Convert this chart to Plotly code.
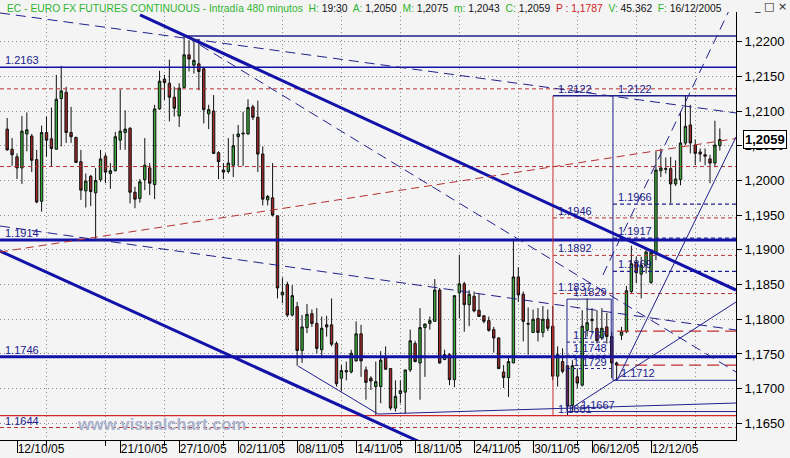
import plotly.graph_objects as go

# ---------------- data ----------------
bars = list(range(-2, 144))
opens = [1.2074,1.2045,1.2034,1.2018,1.2067,1.2064,1.2030,1.1970,1.2069,1.2060,
         1.2045,1.2118,1.2127,1.2069,1.2062,1.2027,1.1985,1.2006,1.1982,1.2001,
         1.2035,1.2010,1.2014,1.2058,1.2069,1.2075,1.1983,1.1974,1.2001,1.2018,
         1.1994,1.2103,1.2146,1.2140,1.2120,1.2093,1.2134,1.2181,1.2166,1.2168,
         1.2161,1.2096,1.2100,1.2040,1.2015,1.2013,1.2022,1.2063,1.2067,1.2067,
         1.2106,1.2091,1.2038,1.1972,1.1975,1.1949,1.1835,1.1850,1.1806,1.1818,
         1.1755,1.1788,1.1808,1.1794,1.1756,1.1792,1.1792,1.1765,1.1715,1.1724,
         1.1724,1.1740,1.1779,1.1727,1.1715,1.1703,1.1703,1.1745,1.1729,1.1672,
         1.1693,1.1695,1.1727,1.1765,1.1737,1.1788,1.1794,1.1797,1.1842,1.1742,
         1.1749,1.1713,1.1838,1.1851,1.1821,1.1833,1.1813,1.1805,1.1798,1.1785,
         1.1773,1.1724,1.1716,1.1737,1.1861,1.1836,1.1794,1.1781,1.1801,1.1781,
         1.1800,1.1790,1.1718,1.1739,1.1733,1.1676,1.1717,1.1705,1.1784,1.1798,
         1.1787,1.1773,1.1789,1.1775,1.1737,1.1777,1.1782,1.1840,1.1882,1.1865,
         1.1878,1.1853,1.1895,1.2014,1.2016,1.2017,1.1995,1.2001,1.2054,1.2080,
         1.2051,1.2041,1.2037,1.2031,1.2025,1.2050]
highs = [1.2090,1.2061,1.2039,1.2093,1.2098,1.2067,1.2044,1.2079,1.2092,1.2105,
         1.2152,1.2165,1.2135,1.2106,1.2063,1.2044,1.2010,1.2008,1.2018,1.2044,
         1.2039,1.2025,1.2070,1.2131,1.2101,1.2077,1.1991,1.2002,1.2061,1.2025,
         1.2109,1.2158,1.2152,1.2174,1.2135,1.2140,1.2208,1.2202,1.2204,1.2204,
         1.2162,1.2109,1.2123,1.2042,1.2025,1.2061,1.2067,1.2080,1.2099,1.2117,
         1.2109,1.2115,1.2049,1.1979,1.2025,1.1949,1.1860,1.1854,1.1849,1.1825,
         1.1806,1.1822,1.1814,1.1816,1.1804,1.1805,1.1830,1.1768,1.1734,1.1739,
         1.1756,1.1797,1.1792,1.1732,1.1718,1.1739,1.1754,1.1761,1.1729,1.1712,
         1.1712,1.1727,1.1785,1.1769,1.1816,1.1794,1.1804,1.1858,1.1845,1.1756,
         1.1751,1.1834,1.1893,1.1854,1.1842,1.1840,1.1837,1.1806,1.1804,1.1789,
         1.1774,1.1734,1.1747,1.1916,1.1875,1.1840,1.1817,1.1814,1.1816,1.1819,
         1.1814,1.1819,1.1761,1.1758,1.1734,1.1741,1.1729,1.1813,1.1830,1.1816,
         1.1813,1.1816,1.1809,1.1782,1.1739,1.1789,1.1848,1.1906,1.1890,1.1890,
         1.1900,1.1899,1.2042,1.2046,1.2033,1.2034,1.2029,1.2099,1.2122,1.2109,
         1.2059,1.2046,1.2046,1.2037,1.2086,1.2075]
lows = [1.2043,1.2021,1.2002,1.1995,1.2042,1.2012,1.1967,1.1955,1.2034,1.2020,
        1.2044,1.2049,1.2054,1.2054,1.2025,1.1972,1.1961,1.1963,1.1916,1.1998,
        1.1996,1.1988,1.2013,1.2044,1.2044,1.1967,1.1960,1.1968,1.1986,1.1979,
        1.1973,1.2102,1.2116,1.2085,1.2092,1.2077,1.2133,1.2157,1.2154,1.2130,
        1.2082,1.2074,1.2038,1.2002,1.2002,1.2010,1.2005,1.2021,1.2021,1.2066,
        1.2087,1.2012,1.1964,1.1964,1.1948,1.1830,1.1823,1.1803,1.1804,1.1733,
        1.1737,1.1780,1.1789,1.1751,1.1744,1.1775,1.1761,1.1703,1.1696,1.1712,
        1.1722,1.1739,1.1717,1.1684,1.1698,1.1662,1.1679,1.1727,1.1669,1.1667,
        1.1679,1.1664,1.1724,1.1738,1.1684,1.1717,1.1785,1.1797,1.1736,1.1741,
        1.1705,1.1702,1.1801,1.1782,1.1790,1.1810,1.1804,1.1794,1.1782,1.1752,
        1.1728,1.1701,1.1688,1.1737,1.1825,1.1768,1.1749,1.1780,1.1768,1.1774,
        1.1783,1.1712,1.1703,1.1722,1.1661,1.1667,1.1701,1.1703,1.1775,1.1780,
        1.1765,1.1770,1.1765,1.1715,1.1712,1.1770,1.1780,1.1837,1.1852,1.1830,
        1.1866,1.1851,1.1885,1.2005,1.2010,1.1967,1.1992,1.1993,1.2051,1.2039,
        1.2022,1.2027,1.2022,1.1996,1.2019,1.2043]
closes = [1.2044,1.2037,1.2018,1.2071,1.2073,1.2029,1.1969,1.2069,1.2058,1.2046,
          1.2117,1.2129,1.2069,1.2063,1.2026,1.1986,1.1999,1.1984,1.2000,1.2031,
          1.2012,1.2014,1.2063,1.2071,1.2074,1.1983,1.1973,1.1998,1.2022,1.1996,
          1.2103,1.2143,1.2141,1.2120,1.2104,1.2133,1.2181,1.2175,1.2173,1.2157,
          1.2102,1.2102,1.2039,1.2027,1.2012,1.2025,1.2050,1.2067,1.2068,1.2105,
          1.2091,1.2038,1.1973,1.1977,1.1950,1.1845,1.1839,1.1806,1.1834,1.1755,
          1.1789,1.1807,1.1794,1.1758,1.1787,1.1789,1.1764,1.1707,1.1726,1.1726,
          1.1751,1.1779,1.1740,1.1709,1.1711,1.1710,1.1741,1.1728,1.1672,1.1689,
          1.1697,1.1727,1.1769,1.1739,1.1788,1.1793,1.1798,1.1842,1.1737,1.1749,
          1.1713,1.1834,1.1851,1.1821,1.1836,1.1812,1.1804,1.1797,1.1784,1.1773,
          1.1729,1.1716,1.1739,1.1861,1.1835,1.1797,1.1793,1.1800,1.1781,1.1800,
          1.1787,1.1718,1.1749,1.1725,1.1675,1.1733,1.1708,1.1790,1.1795,1.1800,
          1.1769,1.1787,1.1775,1.1737,1.1734,1.1782,1.1841,1.1880,1.1867,1.1878,
          1.1897,1.1896,1.2015,1.2018,1.2017,1.1995,1.2002,1.2054,1.2078,1.2054,
          1.2039,1.2038,1.2035,1.2025,1.2051,1.2059]

date_tick_bars = [0, 21, 33, 45, 57, 69, 81, 93, 105, 117, 129]
date_tick_labels = ["12/10/05", "21/10/05", "27/10/05", "02/11/05", "08/11/05", "14/11/05",
                    "18/11/05", "24/11/05", "30/11/05", "06/12/05", "12/12/05"]
grid_bars = [6, 18, 30, 42, 54, 66, 78, 90, 102, 114, 126, 138]
price_ticks = [1.1650, 1.1700, 1.1750, 1.1800, 1.1850, 1.1900, 1.1950,
               1.2000, 1.2050, 1.2100, 1.2150, 1.2200]
price_tick_labels = ["1,1650", "1,1700", "1,1750", "1,1800", "1,1850", "1,1900", "1,1950",
                     "1,2000", "1,2050", "1,2100", "1,2150", "1,2200"]

# horizontal levels
level_thin_blue = [1.2163]
level_thick_blue = [1.1914, 1.1746]
level_red_dash = [1.2132, 1.2020, 1.1644]
level_red_solid = [1.1661]
level_peak = 1.2208
fib_red_box = [1.2122, 1.1946, 1.1892, 1.1837, 1.1661]
fib_blue_box = [1.2122, 1.1966, 1.1917, 1.1869, 1.1712]
fib_small_box = [1.1829, 1.1767, 1.1748, 1.1729, 1.1667]
level_red_long = [1.1783, 1.1734]

# trend lines (bar0, price0, bar1, price1)
trend_thick = [(25.03, 1.22384, 146.29, 1.18421), (-3.46, 1.18983, 82.0, 1.16231)]
trend_dashed = [(-3.46, 1.22413, 146.29, 1.20972), (37.23, 1.21952, 146.29, 1.17240),
                (-3.46, 1.19343, 146.29, 1.17845), (119.2, 1.18637, 146.29, 1.22658)]
trend_red = [(-3.46, 1.18969, 146.29, 1.20604)]
trend_thin = [(57.17, 1.17326, 73.45, 1.16634), (73.45, 1.16634, 146.29, 1.16793),
              (122.08, 1.1712, 146.29, 1.20626), (112.5, 1.16706, 146.29, 1.18248)]

last_close = 1.2059

# ---------------- figure ----------------
XMIN, XMAX = -3.46, 146.29
RED_BOX_X, BLUE_BOX_X = 109.05, 121.26
SMALL_BOX_X0, SMALL_BOX_X1 = 111.9, 120.9

BLUE = "#1212a8"
NAVY = "#20208c"
RED = "#b83030"
FONT = "Arial, 'Liberation Sans', sans-serif"

fig = go.Figure()

def seg(x0, y0, x1, y1, color, width, dash="solid"):
    fig.add_trace(go.Scatter(x=[x0, x1], y=[y0, y1], mode="lines",
                             line=dict(color=color, width=width, dash=dash),
                             hoverinfo="skip", showlegend=False))

# full width levels
for v in level_red_dash:
    seg(XMIN, v, XMAX, v, RED, 1, "4px,3px")
for v in level_red_solid:
    seg(XMIN, v, XMAX, v, "#d02828", 1.2)
for v in level_thin_blue:
    seg(XMIN, v, XMAX, v, BLUE, 1.5)
for v in level_thick_blue:
    seg(XMIN, v, XMAX, v, BLUE, 3)
seg(34, level_peak, XMAX, level_peak, NAVY, 1.5)

# red fibonacci box
seg(RED_BOX_X, fib_red_box[0], RED_BOX_X, fib_red_box[-1], "#c83030", 1)
seg(RED_BOX_X, fib_red_box[0], XMAX, fib_red_box[0], NAVY, 1.3)
for v in fib_red_box[1:-1]:
    seg(RED_BOX_X, v, XMAX, v, RED, 1, "4px,3px")

# blue fibonacci box
seg(BLUE_BOX_X, fib_blue_box[0], BLUE_BOX_X, fib_blue_box[-1], NAVY, 1)
seg(BLUE_BOX_X, fib_blue_box[-1], XMAX, fib_blue_box[-1], NAVY, 1)
for v in fib_blue_box[1:-1]:
    seg(BLUE_BOX_X, v, XMAX, v, NAVY, 1.2, "4px,3px")

# small box
seg(SMALL_BOX_X0, fib_small_box[0], SMALL_BOX_X0, fib_small_box[-1], NAVY, 1)
seg(SMALL_BOX_X1, fib_small_box[0], SMALL_BOX_X1, fib_small_box[2], NAVY, 1)
seg(SMALL_BOX_X0, fib_small_box[0], SMALL_BOX_X1, fib_small_box[0], NAVY, 1)
seg(SMALL_BOX_X0, fib_small_box[-1], XMAX, fib_small_box[-1], NAVY, 1)
for v in fib_small_box[1:-1]:
    seg(SMALL_BOX_X0, v, SMALL_BOX_X1, v, NAVY, 1, "3px,3px")

for v in level_red_long:
    seg(122.1, v, XMAX, v, "#c03030", 1.2, "12px,6px")

# trend lines
for t in trend_thick:
    seg(*t, BLUE, 3)
for t in trend_dashed:
    seg(*t, NAVY, 1, "10px,6px")
for t in trend_red:
    seg(*t, RED, 1, "8px,5px")
for t in trend_thin:
    seg(*t, NAVY, 1)

# candles
fig.add_trace(go.Candlestick(
    x=bars, open=opens, high=highs, low=lows, close=closes,
    increasing=dict(fillcolor="#3aa83a", line=dict(color="#111111", width=1)),
    decreasing=dict(fillcolor="#a02828", line=dict(color="#111111", width=1)),
    whiskerwidth=0, showlegend=False, hoverinfo="skip"))

# level labels
labels = [("1.2163", -2.6, 1.2163), ("1.1914", -2.6, 1.1914), ("1.1746", -2.6, 1.1746),
          ("1.1644", -2.6, 1.1644), ("1.2122", 109.9, 1.2122), ("1.2122", 122.1, 1.2122),
          ("1.1966", 122.1, 1.1966), ("1.1946", 109.9, 1.1946), ("1.1917", 122.1, 1.1917),
          ("1.1892", 109.9, 1.1892), ("1.1869", 122.1, 1.1869), ("1.1837", 109.9, 1.1837),
          ("1.1829", 112.9, 1.1829), ("1.1767", 112.9, 1.1767), ("1.1748", 112.9, 1.1748),
          ("1.1729", 112.9, 1.1729), ("1.1712", 122.7, 1.1712), ("1.1667", 114.5, 1.1667),
          ("1.1661", 109.9, 1.1661)]
for txt, bx, v in labels:
    fig.add_annotation(x=bx, y=v, text=txt, showarrow=False, xanchor="left", yanchor="bottom",
                       font=dict(size=11, color=NAVY, family=FONT), borderpad=0)

# watermark
fig.add_annotation(xref="paper", x=75/736, y=1.1649, text="<b>www.visualchart.com</b>",
                   showarrow=False, xanchor="left", yanchor="middle",
                   font=dict(size=16.5, color="#aab2cc", family=FONT))

# title line
G = "#2fb52f"
def g(s):
    return f'<span style="color:{G}">{s}</span>'
title = (g("EC - EURO FX FUTURES CONTINUOUS - Intradía 480 minutos&nbsp; H:") + " 19:30&nbsp; "
         + g("A:") + " 1,2050&nbsp; " + g("M:") + " 1,2075&nbsp; " + g("m:") + " 1,2043&nbsp; "
         + g("C:") + " 1,2059&nbsp; " + '<span style="color:#d02020">P : 1,1787</span>&nbsp; '
         + g("V:") + " 45.362&nbsp; " + g("F:") + " 16/12/2005")
fig.add_annotation(xref="paper", yref="paper", x=5/736, y=1 + 4/428, text=title,
                   showarrow=False, xanchor="left", yanchor="middle",
                   font=dict(size=10.3, color="#111111", family=FONT))
fig.add_annotation(xref="paper", yref="paper", x=1 + 16/736, y=1 + 5/428, text="_ □ ×",
                   showarrow=False, xanchor="left", yanchor="middle",
                   font=dict(size=11, color="#222222", family="DejaVu Sans"))

# last price box
fig.add_annotation(xref="paper", x=1, y=last_close, text="<b>1,2059</b>", showarrow=False,
                   xanchor="left", yanchor="middle", xshift=7,
                   font=dict(size=13, color="#000000", family=FONT),
                   bgcolor="#ffffff", bordercolor="#000000", borderwidth=1, borderpad=1)

fig.update_layout(
    width=790, height=458,
    margin=dict(l=0, r=54, t=12, b=18, autoexpand=False),
    paper_bgcolor="#f4f4f4", plot_bgcolor="#f4f4f4",
    showlegend=False,
    font=dict(family=FONT, color="#000000"),
    xaxis=dict(range=[XMIN, XMAX], rangeslider=dict(visible=False),
               tickmode="array", tickvals=date_tick_bars, ticktext=date_tick_labels,
               ticks="outside", ticklen=12, tickcolor="#000000", tickwidth=1,
               ticklabelshift=24, ticklabelstandoff=-14,
               tickfont=dict(size=12, color="#000000", family=FONT),
               showgrid=False, zeroline=False,
               showline=True, linecolor="#000000", linewidth=1,
               minor=dict(tickmode="array", tickvals=grid_bars, ticks="outside", ticklen=5,
                          tickcolor="#000000", showgrid=True, gridcolor="#8a8a8a",
                          griddash="1px,3px", gridwidth=1)),
    yaxis=dict(range=[1.16260, 1.22427], side="right",
               tickmode="array", tickvals=price_ticks, ticktext=price_tick_labels,
               ticks="outside", ticklen=5, tickcolor="#000000",
               tickfont=dict(size=13, color="#000000", family=FONT),
               showgrid=True, gridcolor="#8a8a8a", griddash="1px,3px", gridwidth=1,
               zeroline=False, showline=True, linecolor="#000000", linewidth=1),
)

fig.write_html("out.html", config={"displayModeBar": False},
               post_script="document.body.style.margin='0px';document.body.style.background='#f4f4f4';")
